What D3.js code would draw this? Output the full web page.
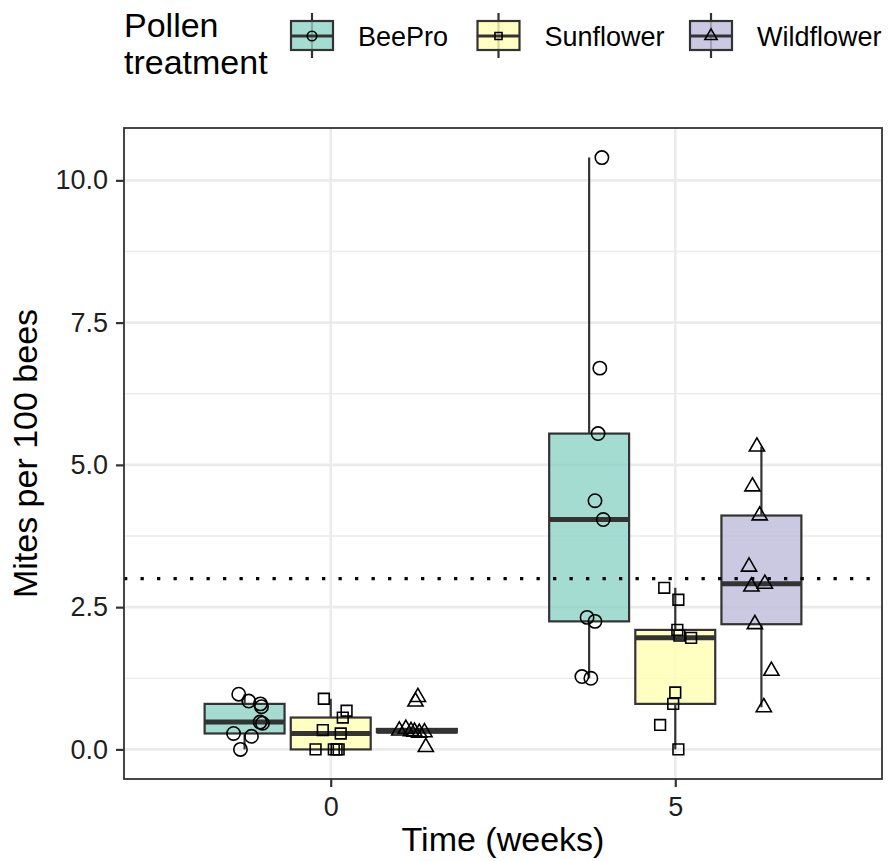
<!DOCTYPE html>
<html>
<head>
<meta charset="utf-8">
<script src="https://cdn.jsdelivr.net/npm/d3@7"></script>
<style>
  body { margin: 0; background: #ffffff; }
  text { font-family: "Liberation Sans", Arial, Helvetica, sans-serif; }
</style>
</head>
<body>
<div id="chart"></div>
<script>
var width = 889
var height = 861

// categories
var times = ["0", "5"]
var treatments = ["BeePro", "Sunflower", "Wildflower"]
var fillColours = ["#8DD3C7", "#FFFFB3", "#BEBADA"]
var yTicks = [0, 2.5, 5, 7.5, 10]
var threshold = 3

// mites per 100 bees, one array per time x treatment, with the jitter
var beePro0 = [0.97, 0.85, 0.80, 0.75, 0.48, 0.46, 0.28, 0.23, 0.0]
var beePro0Jit = [-0.017, 0.012, 0.046, 0.049, 0.045, 0.052, -0.032, 0.020, -0.012]
var sunflower0 = [0.89, 0.68, 0.56, 0.34, 0.28, 0.0, 0.0, 0.0, 0.0]
var sunflower0Jit = [-0.020, 0.046, 0.035, -0.023, 0.029, -0.044, 0.009, 0.017, 0.023]
var wildflower0 = [0.92, 0.84, 0.36, 0.33, 0.32, 0.31, 0.30, 0.29, 0.04]
var wildflower0Jit = [0.003, -0.004, -0.032, -0.051, -0.017, -0.007, 0.022, 0.007, 0.026]
var beePro5 = [10.4, 6.7, 5.55, 4.37, 4.04, 2.32, 2.25, 1.28, 1.25]
var beePro5Jit = [0.037, 0.031, 0.026, 0.017, 0.041, -0.006, 0.017, -0.021, 0.005]
var sunflower5 = [2.84, 2.63, 2.10, 2.0, 1.96, 1.0, 0.80, 0.43, 0.0]
var sunflower5Jit = [-0.032, 0.009, 0.006, 0.012, 0.046, 0, -0.006, -0.044, 0.009]
var wildflower5 = [5.32, 4.62, 4.11, 3.21, 2.91, 2.86, 2.2, 1.38, 0.74]
var wildflower5Jit = [-0.013, -0.026, -0.005, -0.036, 0.010, -0.029, -0.019, 0.029, 0.007]

var groups = [
    {time: "0", trt: 0, values: beePro0, jit: beePro0Jit},
    {time: "0", trt: 1, values: sunflower0, jit: sunflower0Jit},
    {time: "0", trt: 2, values: wildflower0, jit: wildflower0Jit},
    {time: "5", trt: 0, values: beePro5, jit: beePro5Jit},
    {time: "5", trt: 1, values: sunflower5, jit: sunflower5Jit},
    {time: "5", trt: 2, values: wildflower5, jit: wildflower5Jit}
]

var margin = {top: 128, right: 7, bottom: 82, left: 124}
var innerW = width - margin.left - margin.right
var innerH = height - margin.top - margin.bottom

var svg = d3.select("#chart")
    .append("svg")
        .attr("width", width)
        .attr("height", height)

var allValues = d3.merge(groups.map(function(g){ return g.values }))
var yMin = d3.min(allValues), yMax = d3.max(allValues)
var pad = (yMax - yMin) * 0.05
var y = d3.scaleLinear()
    .domain([yMin - pad, yMax + pad])
    .range([margin.top + innerH, margin.top])

var x = d3.scalePoint()
    .domain(times)
    .range([margin.left, margin.left + innerW])
    .padding(0.6)
var step = x.step()
var dodge = 0.25 * step
var boxW = 0.232 * step

function groupX(g){ return x(g.time) + (g.trt - 1) * dodge }

// panel grid
var grid = svg.append("g")
var minor = d3.range(0, 4).map(function(i){ return 1.25 + 2.5 * i })
grid.selectAll(".minor")
    .data(minor)
    .enter()
    .append("line")
        .attr("x1", margin.left).attr("x2", margin.left + innerW)
        .attr("y1", function(d){ return y(d) }).attr("y2", function(d){ return y(d) })
        .attr("stroke", "#ebebeb").attr("stroke-width", 1.3)
grid.selectAll(".major")
    .data(yTicks)
    .enter()
    .append("line")
        .attr("x1", margin.left).attr("x2", margin.left + innerW)
        .attr("y1", function(d){ return y(d) }).attr("y2", function(d){ return y(d) })
        .attr("stroke", "#ebebeb").attr("stroke-width", 2.6)
grid.selectAll(".vmajor")
    .data(times)
    .enter()
    .append("line")
        .attr("x1", function(d){ return x(d) }).attr("x2", function(d){ return x(d) })
        .attr("y1", margin.top).attr("y2", margin.top + innerH)
        .attr("stroke", "#ebebeb").attr("stroke-width", 2.6)

// boxplot stats
groups.forEach(function(g){
    var s = g.values.slice().sort(d3.ascending)
    g.q1 = d3.quantile(s, 0.25)
    g.med = d3.quantile(s, 0.5)
    g.q3 = d3.quantile(s, 0.75)
    var iqr = g.q3 - g.q1
    g.lo = d3.min(s.filter(function(v){ return v >= g.q1 - 1.5 * iqr }))
    g.hi = d3.max(s.filter(function(v){ return v <= g.q3 + 1.5 * iqr }))
})

var boxes = svg.append("g")
    .selectAll("g")
    .data(groups)
    .enter()
    .append("g")

boxes.append("line")
    .attr("x1", groupX).attr("x2", groupX)
    .attr("y1", function(d){ return y(d.q3) }).attr("y2", function(d){ return y(d.hi) })
    .attr("stroke", "#333333").attr("stroke-width", 2.2)
boxes.append("line")
    .attr("x1", groupX).attr("x2", groupX)
    .attr("y1", function(d){ return y(d.q1) }).attr("y2", function(d){ return y(d.lo) })
    .attr("stroke", "#333333").attr("stroke-width", 2.2)
boxes.append("rect")
    .attr("x", function(d){ return groupX(d) - boxW / 2 })
    .attr("width", boxW)
    .attr("y", function(d){ return y(d.q3) })
    .attr("height", function(d){ return y(d.q1) - y(d.q3) })
    .attr("fill", function(d){ return fillColours[d.trt] })
    .attr("fill-opacity", 0.8)
    .attr("stroke", "#333333").attr("stroke-width", 2.2)
boxes.append("line")
    .attr("x1", function(d){ return groupX(d) - boxW / 2 })
    .attr("x2", function(d){ return groupX(d) + boxW / 2 })
    .attr("y1", function(d){ return y(d.med) }).attr("y2", function(d){ return y(d.med) })
    .attr("stroke", "#333333").attr("stroke-width", 5)

// threshold line
svg.append("line")
    .attr("x1", margin.left).attr("x2", margin.left + innerW)
    .attr("y1", y(threshold)).attr("y2", y(threshold))
    .attr("stroke", "#000000").attr("stroke-width", 3.2)
    .attr("stroke-dasharray", "3.3,13.2")

// jittered points
var symbols = [d3.symbolCircle, d3.symbolSquare, d3.symbolTriangle]
var symbolSizes = [140, 115, 100]
var points = []
groups.forEach(function(g){
    g.values.forEach(function(v, i){
        points.push({g: g, v: v, j: g.jit[i]})
    })
})
svg.append("g")
    .selectAll("path")
    .data(points)
    .enter()
    .append("path")
        .attr("d", function(d){ return d3.symbol().type(symbols[d.g.trt]).size(symbolSizes[d.g.trt])() })
        .attr("transform", function(d){ return "translate(" + (groupX(d.g) + d.j * step) + "," + y(d.v) + ")" })
        .attr("fill", "none")
        .attr("stroke", "#000000")
        .attr("stroke-width", 1.6)

// panel border
svg.append("rect")
    .attr("x", margin.left).attr("y", margin.top)
    .attr("width", innerW).attr("height", innerH)
    .attr("fill", "none")
    .attr("stroke", "#333333").attr("stroke-width", 1.8)

// axes
var yAxis = svg.append("g")
    .attr("transform", "translate(" + margin.left + ",0)")
    .call(d3.axisLeft(y).tickValues(yTicks).tickFormat(d3.format(".1f")).tickSize(8).tickPadding(8))
var xAxis = svg.append("g")
    .attr("transform", "translate(0," + (margin.top + innerH) + ")")
    .call(d3.axisBottom(x).tickSize(8).tickPadding(10))
;[yAxis, xAxis].forEach(function(a){
    a.select(".domain").remove()
    a.selectAll(".tick line").attr("stroke", "#333333").attr("stroke-width", 2.2)
    a.selectAll(".tick text").attr("fill", "#1f1f1f").attr("font-size", 27)
        .style("font-family", "'Liberation Sans', Arial, sans-serif")
})

svg.append("text")
    .attr("x", margin.left + innerW / 2)
    .attr("y", 851)
    .attr("text-anchor", "middle")
    .attr("font-size", 34)
    .text("Time (weeks)")
svg.append("text")
    .attr("transform", "translate(37," + (margin.top + innerH / 2) + ") rotate(-90)")
    .attr("text-anchor", "middle")
    .attr("font-size", 34)
    .text("Mites per 100 bees")

// legend
var legend = svg.append("g")
legend.append("text")
    .attr("x", 124).attr("y", 37)
    .attr("font-size", 34)
    .text("Pollen")
legend.append("text")
    .attr("x", 124).attr("y", 74)
    .attr("font-size", 34)
    .text("treatment")

var keyX = [312, 498.5, 711]
var keys = legend.selectAll(".key")
    .data(treatments)
    .enter()
    .append("g")
        .attr("transform", function(d, i){ return "translate(" + keyX[i] + ",36)" })
keys.append("line")
    .attr("y1", -23).attr("y2", 22)
    .attr("stroke", "#333333").attr("stroke-width", 2.2)
keys.append("rect")
    .attr("x", -21).attr("y", -15).attr("width", 42).attr("height", 29)
    .attr("fill", function(d, i){ return fillColours[i] })
    .attr("fill-opacity", 0.8)
    .attr("stroke", "#333333").attr("stroke-width", 2.2)
keys.append("line")
    .attr("x1", -21).attr("x2", 21)
    .attr("stroke", "#333333").attr("stroke-width", 3)
keys.append("path")
    .attr("d", function(d, i){ return d3.symbol().type(symbols[i]).size([70, 50, 65][i])() })
    .attr("fill", "none")
    .attr("stroke", "#000000").attr("stroke-width", 1.6)
keys.append("text")
    .attr("x", 46).attr("y", 10)
    .attr("font-size", 27)
    .text(function(d){ return d })
</script>
</body>
</html>
